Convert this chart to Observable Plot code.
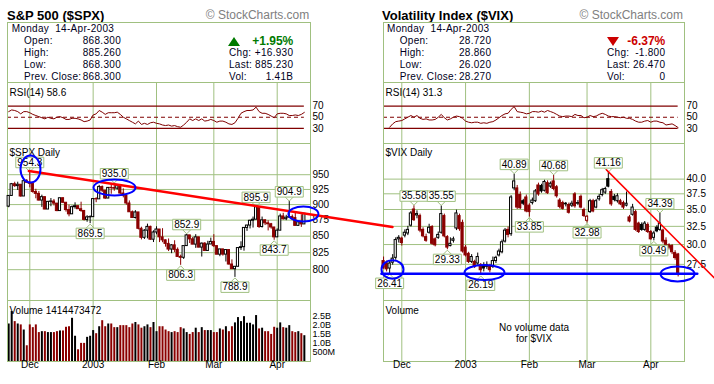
<!DOCTYPE html>
<html>
<head>
<meta charset="utf-8">
<script src="https://cdn.jsdelivr.net/npm/d3@7"></script>
<script src="https://cdn.jsdelivr.net/npm/@observablehq/plot@0.6"></script>
<style>
  html, body { margin: 0; padding: 0; background: #fff; }
  #chart { position: relative; width: 714px; height: 384px; overflow: hidden; background: #fff;
           font-family: "Liberation Sans", Arial, Helvetica, sans-serif; color: #000; }
  #chart .t { position: absolute; white-space: pre; line-height: 1; }
  #chart .box { position: absolute; border: 1px solid #a0c080; box-sizing: border-box; background: #fff; }
  #chart .tri { position: absolute; width: 0; height: 0; }
</style>
</head>
<body>
<div id="chart"></div>
<script>
// ---------------- DATA ----------------
const tradingDays = [
  "2002-11-20","2002-11-21","2002-11-22","2002-11-25","2002-11-26","2002-11-27","2002-11-29",
  "2002-12-02","2002-12-03","2002-12-04","2002-12-05","2002-12-06","2002-12-09","2002-12-10","2002-12-11","2002-12-12","2002-12-13",
  "2002-12-16","2002-12-17","2002-12-18","2002-12-19","2002-12-20","2002-12-23","2002-12-24","2002-12-26","2002-12-27","2002-12-30","2002-12-31",
  "2003-01-02","2003-01-03","2003-01-06","2003-01-07","2003-01-08","2003-01-09","2003-01-10","2003-01-13","2003-01-14","2003-01-15","2003-01-16",
  "2003-01-17","2003-01-21","2003-01-22","2003-01-23","2003-01-24","2003-01-27","2003-01-28","2003-01-29","2003-01-30","2003-01-31",
  "2003-02-03","2003-02-04","2003-02-05","2003-02-06","2003-02-07","2003-02-10","2003-02-11","2003-02-12","2003-02-13","2003-02-14",
  "2003-02-18","2003-02-19","2003-02-20","2003-02-21","2003-02-24","2003-02-25","2003-02-26","2003-02-27","2003-02-28",
  "2003-03-03","2003-03-04","2003-03-05","2003-03-06","2003-03-07","2003-03-10","2003-03-11","2003-03-12","2003-03-13","2003-03-14",
  "2003-03-17","2003-03-18","2003-03-19","2003-03-20","2003-03-21","2003-03-24","2003-03-25","2003-03-26","2003-03-27","2003-03-28","2003-03-31",
  "2003-04-01","2003-04-02","2003-04-03","2003-04-04","2003-04-07","2003-04-08","2003-04-09","2003-04-10","2003-04-11","2003-04-14"
];
const monthLabels = ["Dec", "2003", "Feb", "Mar", "Apr"];

// S&P 500
const spxPrevClose = 896.7;
const spxOpen = [896.7,914.2,933.8,930.6,932.9,913.3,938.9,
  936.3,934.5,920.8,917.6,906.6,912.2,892.0,904.5,905.0,901.6,889.5,910.4,903.0,891.1,884.3,895.8,897.4,892.5,889.7,875.4,879.4,
  879.8,909.0,908.6,929.0,922.9,909.9,927.6,927.3,926.3,931.7,918.2,914.6,901.8,887.6,878.4,887.3,861.4,847.5,858.5,864.4,844.6,
  855.7,860.3,848.2,843.6,838.2,829.7,836.0,829.2,818.7,817.4,834.9,851.2,845.1,837.1,848.2,832.6,838.6,827.6,837.3,
  841.2,834.8,822.0,829.9,822.1,828.9,807.5,800.7,804.2,831.9,833.3,862.8,866.5,874.0,875.7,895.8,864.2,874.7,870.0,868.5,863.5,
  848.2,858.5,880.9,876.5,878.9,879.9,878.3,866.0,871.6,868.3];
const spxHigh = [915.0,935.1,937.2,937.2,933.0,940.4,941.8,
  954.3,934.5,925.3,921.5,915.5,912.2,904.9,909.9,908.4,901.6,910.4,911.2,903.0,899.2,897.8,902.9,897.4,903.9,890.5,882.1,881.9,
  909.0,911.3,931.8,930.8,922.9,928.3,932.9,935.0,933.3,932.6,926.0,914.6,906.0,889.7,890.2,887.3,863.9,860.0,868.7,865.5,858.3,
  864.6,860.3,861.6,844.2,845.7,837.2,843.0,832.1,821.3,834.9,852.9,851.2,848.0,852.3,848.2,839.6,840.1,842.2,847.0,
  852.3,835.4,829.9,829.9,829.0,828.9,814.3,804.2,832.0,841.4,862.8,866.9,875.0,879.9,895.9,895.8,879.9,875.8,874.1,869.9,863.5,
  861.3,884.6,885.9,882.7,904.9,883.1,887.4,872.0,883.6,885.26];
const spxLow = [894.9,914.2,928.4,923.3,912.1,913.3,935.6,
  927.7,918.7,909.5,905.9,895.5,891.6,892.0,896.5,897.8,888.5,889.5,901.7,887.8,880.3,884.3,892.5,892.3,887.5,873.6,871.7,869.5,
  879.8,903.1,908.6,919.9,908.3,909.9,917.0,922.0,924.1,916.7,911.0,899.0,887.6,877.6,876.8,859.7,844.3,845.0,845.9,843.7,840.3,
  852.2,840.2,840.0,833.3,826.7,823.5,825.1,818.5,806.3,815.0,834.9,838.8,836.9,831.5,832.2,818.5,826.7,827.6,837.3,
  832.7,821.9,819.0,819.8,811.2,806.6,800.3,788.9,804.2,828.3,827.2,857.4,861.2,862.6,875.7,862.0,862.6,866.5,858.1,860.8,843.7,
  847.9,858.5,875.0,874.2,878.9,874.7,865.7,866.0,863.6,868.3];
const spxClose = [914.2,933.8,930.6,932.9,913.3,938.9,936.3,
  934.5,920.8,917.6,906.6,912.2,892.0,904.5,905.0,901.6,889.5,910.4,903.0,891.1,884.3,895.8,897.4,892.5,889.7,875.4,879.4,879.8,
  909.0,908.6,929.0,922.9,909.9,927.6,927.3,926.3,931.7,918.2,914.6,901.8,887.6,878.4,887.3,861.4,847.5,858.5,864.4,844.6,855.7,
  860.3,848.2,843.6,838.2,829.7,836.0,829.2,818.7,817.4,834.9,851.2,845.1,837.1,848.2,832.6,838.6,827.6,837.3,841.2,
  834.8,822.0,829.9,822.1,828.9,807.5,800.7,804.2,831.9,833.3,862.8,866.5,874.0,875.7,895.8,864.2,874.7,870.0,868.5,863.5,848.2,
  858.5,880.9,876.5,878.9,879.9,878.3,866.0,871.6,868.3,885.23];
const spxVolumeB = [2.05,2.73,2.18,2.05,2.0,1.72,0.86,
  2.0,1.85,2.0,1.58,1.63,1.63,1.58,1.58,1.58,1.63,1.67,1.67,1.87,1.90,2.36,1.38,0.64,0.99,0.99,1.32,1.38,
  1.69,1.52,1.90,2.23,1.90,2.05,2.05,1.85,1.85,1.96,1.96,1.96,1.85,2.05,2.13,2.0,1.82,1.90,2.0,1.85,2.13,
  1.63,1.90,1.90,1.72,1.63,1.58,1.63,1.58,1.85,1.78,1.58,1.48,1.58,1.82,1.58,1.85,1.69,1.69,1.69,
  1.58,1.58,1.78,1.72,1.90,1.63,1.90,2.11,2.40,2.18,2.45,2.09,2.09,2.0,2.51,1.78,1.82,1.63,1.63,1.48,1.87,
  1.82,2.11,1.85,1.82,1.96,1.63,1.58,1.63,1.52,1.41];
const spxRsi = [60,63,62,60,56,60,60,
  58,55,53,51,49,47,50,48,47,50,51,49,46,46,48,48,47,45,42,43,45,
  54,56,62,59,55,58,58,58,59,55,50,47,44,41,38,43,37,39,37,40,41,
  39,38,36,35,36,34,35,33,32,36,41,47,44,47,44,47,43,44,46,
  44,41,43,43,41,38,37,40,48,57,60,62,62,63,68,60,57,57,55,52,49,
  56,57,57,56,53,53,54,53,55,58.6];

// Volatility Index
const vixOpen = [28.6,27.9,27.6,27.0,27.7,28.3,30.7,
  30.8,31.2,31.5,32.6,35.0,34.1,34.0,32.0,31.0,31.6,32.4,30.7,30.9,31.6,34.0,31.0,29.8,30.5,32.2,34.0,33.0,
  29.6,28.8,27.8,27.8,27.6,27.4,27.2,27.2,27.3,27.2,27.9,28.6,29.0,30.4,32.0,31.4,38.4,38.4,37.3,36.3,36.9,
  35.6,36.0,36.3,38.9,38.8,38.0,39.3,38.7,39.6,38.6,36.4,36.0,35.9,35.7,35.6,37.4,35.9,37.0,34.9,
  33.3,34.6,36.3,35.3,36.6,37.3,37.7,40.0,37.8,37.0,36.3,36.3,36.0,35.6,33.8,34.2,34.6,32.9,32.7,32.0,32.7,
  31.7,30.9,32.3,32.0,31.9,30.5,29.9,29.8,28.9,28.72];
const vixHigh = [28.9,28.4,27.9,27.9,28.7,30.9,31.2,
  31.0,32.0,32.5,34.7,35.58,34.8,34.3,32.3,31.4,32.8,32.6,30.9,31.7,35.55,34.3,31.2,30.9,31.0,34.9,34.3,33.4,
  29.9,29.0,28.7,28.0,28.9,27.6,27.7,27.8,27.5,28.4,28.5,29.4,30.6,32.2,32.4,37.2,40.89,38.9,37.8,36.6,37.3,
  35.9,36.8,38.2,39.3,39.1,39.8,39.7,39.5,40.68,38.9,36.7,36.3,36.1,36.0,36.3,37.7,36.4,37.3,35.2,
  34.1,36.6,36.6,36.6,37.4,38.4,38.6,41.16,38.2,37.4,37.5,36.6,36.3,37.8,34.1,35.8,34.9,33.1,33.0,33.2,33.0,
  31.9,31.8,32.6,34.39,32.1,30.9,30.1,30.0,29.2,28.86];
const vixLow = [27.4,26.9,26.6,26.41,27.4,28.0,30.2,
  29.8,30.9,31.2,32.4,33.2,33.6,31.6,30.9,30.3,31.4,29.9,29.7,30.7,31.4,30.9,29.33,29.7,30.2,31.9,31.8,28.9,
  28.4,27.6,27.6,27.0,27.4,26.19,26.6,26.9,26.5,27.0,27.6,28.4,28.8,30.2,30.9,31.1,38.0,35.0,35.0,35.6,34.5,
  33.85,35.7,36.1,37.1,37.6,37.8,37.4,38.4,38.0,36.8,35.1,34.9,35.4,34.3,35.3,35.2,35.6,35.1,33.8,
  32.98,34.4,34.5,35.1,36.3,37.0,37.4,38.5,35.5,36.2,36.0,35.6,35.0,35.4,33.0,34.0,31.8,31.5,31.8,31.8,31.5,
  30.6,30.49,31.6,31.8,30.1,29.7,29.3,28.7,28.0,26.02];
const vixClose = [27.5,27.1,26.9,27.6,28.2,30.6,30.9,
  30.2,31.6,32.0,34.4,33.4,34.3,31.9,31.1,30.5,32.3,30.1,29.9,31.3,34.3,31.1,29.6,30.1,30.7,34.4,32.1,29.1,
  28.6,27.8,28.4,27.2,28.4,26.8,27.0,27.4,26.8,27.9,28.3,29.1,30.3,31.9,31.3,36.9,39.6,35.3,35.2,35.9,34.7,
  34.6,36.4,37.9,37.4,37.9,39.5,37.6,39.2,38.3,37.1,35.4,35.1,35.8,34.5,35.9,35.5,36.0,35.3,34.0,
  33.9,36.3,34.7,36.3,37.0,38.1,38.3,38.7,35.8,36.5,37.1,35.8,35.3,35.9,33.2,35.3,32.0,31.7,32.0,32.9,31.7,
  30.7,31.5,31.8,32.9,30.4,29.9,29.6,29.0,28.27,26.47];
const vixRsi = [null,null,null,32,38,42,43,
  44,47,50,53,50,53,48,46,47,45,45,46,50,55,49,45,47,50,52,51,48,
  43,41,40,41,41,39,40,39,41,42,45,49,53,56,57,64,69,60,59,58,56,
  57,60,60,59,61,59,62,60,58,55,52,51,52,52,51,55,53,53,49,
  50,53,51,52,55,57,55,52,51,51,50,49,50,48,48,46,43,41,41,43,44,
  41,43,43,41,40,36,37,38,35,31.3];

// price callouts: [trading-day index, value]
const spxHighCallouts = [[7, 954.3], [35, 935.0], [59, 852.9], [82, 895.9], [93, 904.9]];
const spxLowCallouts  = [[27, 869.5], [57, 806.3], [75, 788.9], [88, 843.7]];
const vixHighCallouts = [[11, 35.58], [20, 35.55], [44, 40.89], [57, 40.68], [75, 41.16], [92, 34.39]];
const vixLowCallouts  = [[3, 26.41], [22, 29.33], [33, 26.19], [49, 33.85], [68, 32.98], [90, 30.49]];

// hand-drawn annotations (trading-day index, value)
const spxTrend   = [[6.7, 956.3], [127.2, 864.3]];
const spxRings   = [[7.23, 959.8], [35.07, 928.3], [97.7, 884.8]];
const vixTrend   = [[74.4, 41.66], [110, 25.87]];
const vixSupport = [[0.3, 26.4], [104.3, 26.4]];
const vixRings   = [[3.94, 26.89], [34.23, 26.53], [97.8, 26.36]];

// axis ticks
const spxPriceTicks = [800, 825, 850, 875, 900, 925, 950];
const vixPriceTicks = [27.5, 30, 32.5, 35, 37.5, 40];
const rsiTicks = [30, 50, 70];
const volumeTicks = [0.5, 1, 1.5, 2, 2.5];
const volumeTickLabels = ["500M", "1.0B", "1.5B", "2.0B", "2.5B"];

// header texts
const headerDate = "Monday  14-Apr-2003";
const headerLabels = ["Open:", "High:", "Low:", "Prev. Close:"];
const spxHeaderValues = ["868.300", "885.260", "868.300", "868.300"];
const vixHeaderValues = ["28.720", "28.860", "26.020", "28.270"];
const rightLabels = ["Chg:", "Last:", "Vol:"];
const spxRightValues = ["+16.930", "885.230", "1.41B"];
const vixRightValues = ["-1.800", "26.470", "0"];
const spxPct = "+1.95%", vixPct = "-6.37%";
const spxRsiLabel = "RSI(14) 58.6", vixRsiLabel = "RSI(14) 31.3";
const spxVolumeLabel = "Volume 1414473472";

// ---------------- STYLE / RENDER ----------------
const GRID = "#a0c080", MAROON = "#800000", DOWN = "#8b0000", UP = "#000000";
const chart = document.getElementById("chart");
const baseStyle = {fontFamily: '"Liberation Sans", Arial, sans-serif', fontSize: "10px", color: "#000",
                   background: "transparent", overflow: "visible"};

const monthStarts = tradingDays.map((d, i) => i)
  .filter(i => i > 0 && tradingDays[i].slice(5, 7) !== tradingDays[i - 1].slice(5, 7));

function put(text, x, base, o = {}) {
  const el = document.createElement("div");
  el.className = "t";
  const size = o.size || 10;
  el.textContent = text;
  el.style.fontSize = size + "px";
  el.style.left = x + "px";
  el.style.top = (base - 0.8465 * size) + "px";
  if (o.bold) el.style.fontWeight = "bold";
  el.style.color = o.color || "#000022";
  el.style.letterSpacing = (o.ls != null ? o.ls : 0) + "px";
  if (o.anchor === "end") el.style.transform = "translateX(-100%)";
  if (o.anchor === "middle") el.style.transform = "translateX(-50%)";
  chart.appendChild(el);
}

function addPlot(opts, left, top) {
  const svg = Plot.plot(opts);
  svg.style.position = "absolute";
  svg.style.left = left + "px";
  svg.style.top = top + "px";
  svg.style.overflow = "visible";
  svg.style.background = "transparent";
  svg.style.maxWidth = "none";
  chart.appendChild(svg);
  return svg;
}

const sym = (fn) => ({draw: fn});
function ellipse(rx, ry) {
  const k = 0.5523;
  return sym(c => {
    c.moveTo(rx, 0);
    c.bezierCurveTo(rx, k * ry, k * rx, ry, 0, ry);
    c.bezierCurveTo(-k * rx, ry, -rx, k * ry, -rx, 0);
    c.bezierCurveTo(-rx, -k * ry, -k * rx, -ry, 0, -ry);
    c.bezierCurveTo(k * rx, -ry, rx, -k * ry, rx, 0);
    c.closePath();
  });
}
const BW = 28, BH = 10.5, VH = 4.5;
const boxAbove = sym(c => c.rect(-BW / 2, -VH - BH, BW, BH));
const boxBelow = sym(c => c.rect(-BW / 2, VH, BW, BH));
const vAbove = sym(c => { c.moveTo(-4, -VH); c.lineTo(0, -0.5); c.lineTo(4, -VH); });
const vBelow = sym(c => { c.moveTo(-4, VH); c.lineTo(0, 0.5); c.lineTo(4, VH); });

function callouts(list, above, digits) {
  const o = {x: d => d[0], y: d => d[1]};
  return [
    Plot.dot(list, {...o, symbol: above ? vAbove : vBelow, fill: "none", stroke: GRID, strokeWidth: 1}),
    Plot.dot(list, {...o, symbol: above ? boxAbove : boxBelow, fill: "white", stroke: GRID, strokeWidth: 1}),
    Plot.text(list, {...o, text: d => d[1].toFixed(digits), dy: above ? -(VH + BH / 2) : (VH + BH / 2), fill: "#000", fontSize: 10})
  ];
}

function candleRows(open, high, low, close, prev0, from) {
  return close.map((c, i) => {
    const pc = i ? close[i - 1] : prev0;
    const col = c < pc ? DOWN : UP;
    return {i, o: open[i], h: high[i], l: low[i], c, col, body: c < open[i] ? col : "white"};
  }).filter(d => d.i >= from);
}

function drawPanel(p) {
  const {left: L, w, mr, xDomain} = p;
  const lastIdx = tradingDays.length - 1;
  // header
  put(p.title, p.titleX, 20, {size: 13, bold: true, color: "#000"});
  put("\u00a9 StockCharts.com", p.copyR, 19.5, {size: 12, color: "#808080", anchor: "end"});
  const box = document.createElement("div");
  box.className = "box";
  Object.assign(box.style, {left: L + "px", top: "22px", width: (w + 1) + "px", height: "61px"});
  chart.appendChild(box);
  put(headerDate, p.dateX, 32.3, {ls: 0.3});
  const rows = [44.8, 56.8, 68.4, 80.3];
  headerLabels.forEach((t, k) => put(t, p.labX, rows[k], {ls: 0.3}));
  p.headerValues.forEach((t, k) => put(t, p.valR, rows[k], {ls: 0.3, anchor: "end"}));
  rightLabels.forEach((t, k) => put(t, p.rLabX, rows[k + 1], {ls: 0.3}));
  p.rightValues.forEach((t, k) => put(t, p.valR2, rows[k + 1], {ls: 0.3, anchor: "end"}));
  put(p.pct, p.valR2, 45, {size: 12, bold: true, color: p.pctColor, anchor: "end"});
  const tri = document.createElement("div");
  tri.className = "tri";
  Object.assign(tri.style, {left: p.triX + "px", top: "37px", borderLeft: "6.5px solid transparent",
    borderRight: "6.5px solid transparent"});
  if (p.up) tri.style.borderBottom = "9px solid " + p.pctColor; else tri.style.borderTop = "9px solid " + p.pctColor;
  chart.appendChild(tri);

  const common = {
    width: w + mr, marginLeft: 0, marginRight: mr, marginTop: 0,
    x: {domain: xDomain, axis: null},
    color: {type: "identity"},
    style: baseStyle
  };
  const x0 = () => xDomain[0], xl = () => lastIdx;

  // RSI panel
  const rsiRows = p.rsi.map((r, i) => ({i, r})).filter(d => d.r != null && d.i >= xDomain[0]);
  addPlot({...common, height: 61, marginBottom: 0,
    y: {domain: [2.83, 112.2], axis: null},
    marks: [
      Plot.ruleX(monthStarts, {stroke: GRID}),
      Plot.ruleY([30, 70], {x1: x0, x2: xl, stroke: MAROON, strokeWidth: 1.3}),
      Plot.ruleY([50], {x1: x0, x2: xl, stroke: MAROON, strokeWidth: 1.1, strokeDasharray: "4,3"}),
      Plot.line(rsiRows, {x: "i", y: "r", stroke: MAROON, strokeWidth: 1}),
      Plot.frame({stroke: GRID}),
      Plot.text(rsiTicks, {y: d => d, text: d => String(d), frameAnchor: "right", textAnchor: "start", dx: 2}),
      Plot.text([p.rsiLabel], {text: d => d, frameAnchor: "top-left", textAnchor: "start", dx: 2, dy: 6})
    ]}, L, 82);

  // price panel
  const cr = candleRows(p.open, p.high, p.low, p.close, p.prev0, Math.ceil(xDomain[0]));
  addPlot({...common, height: 157, marginBottom: 0,
    y: {type: "log", domain: p.yDomain, axis: null},
    marks: [
      Plot.ruleY(p.ticks, {stroke: GRID}),
      Plot.ruleX(monthStarts, {stroke: GRID}),
      Plot.frame({stroke: GRID}),
      Plot.text(p.ticks, {y: d => d, text: p.tickFmt, frameAnchor: "right", textAnchor: "start", dx: 2}),
      Plot.text([p.priceLabel], {text: d => d, frameAnchor: "top-left", textAnchor: "start", dx: 2, dy: 5}),
      Plot.ruleX(cr, {x: "i", y1: "l", y2: "h", stroke: "col", strokeWidth: 1}),
      Plot.rect(cr, {x1: d => d.i - 0.36, x2: d => d.i + 0.36, y1: "o", y2: "c", fill: "body", stroke: "col", strokeWidth: 1}),
      ...callouts(p.highCallouts, true, p.digits),
      ...callouts(p.lowCallouts, false, p.digits),
      ...p.extra,
      ...p.rings.map((r, k) => Plot.dot([r], {x: d => d[0], y: d => d[1], symbol: ellipse(...p.ringSizes[k]),
        fill: "none", stroke: "#0000ff", strokeWidth: 2}))
    ]}, L, 143);

  // volume panel
  const volMarks = [Plot.ruleX(monthStarts, {stroke: GRID})];
  if (p.volume) {
    const vr = p.volume.map((v, i) => ({i, v, col: p.close[i] < (i ? p.close[i - 1] : p.prev0) ? DOWN : UP}))
      .filter(d => d.i >= xDomain[0]);
    volMarks.push(
      Plot.ruleX(vr, {x: "i", y1: () => 0, y2: "v", stroke: "col", strokeWidth: 2}),
      Plot.text(volumeTicks, {y: d => d, text: (d, k) => volumeTickLabels[k], frameAnchor: "right", textAnchor: "start",
        dx: 2, fontSize: 9})
    );
  } else {
    volMarks.push(
      Plot.text(["No volume data"], {text: d => d, frameAnchor: "middle", dy: -3.5}),
      Plot.text(["for $VIX"], {text: d => d, frameAnchor: "middle", dy: 7.5})
    );
  }
  volMarks.push(
    Plot.frame({stroke: GRID}),
    Plot.text(monthStarts, {x: d => d, text: (d, k) => monthLabels[k], frameAnchor: "bottom", dy: 6.5}),
    Plot.text([p.volumeLabel], {text: d => d, frameAnchor: "top-left", textAnchor: "start", dx: 2, dy: 6})
  );
  addPlot({...common, height: 61 + 16, marginBottom: 16,
    y: {domain: [0, 3.333], axis: null}, marks: volMarks}, L, 300);
}

// VIX first so that the S&P trend line overlaps it
drawPanel({
  left: 383, w: 301, mr: 30, xDomain: [0.975, 100.09], yDomain: [23.46, 46.78],
  title: "Volatility Index ($VIX)", titleX: 382, copyR: 683,
  dateX: 387, labX: 399.7, valR: 491.3, rLabX: 607, valR2: 665.3, triX: 607,
  headerValues: vixHeaderValues, rightValues: vixRightValues, pct: vixPct, pctColor: "#cc0000", up: false,
  rsi: vixRsi, rsiLabel: vixRsiLabel,
  open: vixOpen, high: vixHigh, low: vixLow, close: vixClose, prev0: vixClose[0],
  ticks: vixPriceTicks, tickFmt: d => d.toFixed(1), priceLabel: "$VIX Daily", digits: 2,
  highCallouts: vixHighCallouts, lowCallouts: vixLowCallouts,
  extra: [
    Plot.line(vixSupport, {x: d => d[0], y: d => d[1], stroke: "#0000ff", strokeWidth: 2.5}),
    Plot.line(vixTrend, {x: d => d[0], y: d => d[1], stroke: "#ff0000", strokeWidth: 1.5})
  ],
  rings: vixRings, ringSizes: [[11, 9.3], [20, 7.5], [17, 7.5]],
  volume: null, volumeLabel: "Volume"
});

drawPanel({
  left: 7, w: 303, mr: 37, xDomain: [-0.39, 100.04], yDomain: [756.6, 1005.2],
  title: "S&P 500 ($SPX)", titleX: 7, copyR: 309.3,
  dateX: 11.7, labX: 24, valR: 121, rLabX: 229, valR2: 293.3, triX: 228,
  headerValues: spxHeaderValues, rightValues: spxRightValues, pct: spxPct, pctColor: "#007a00", up: true,
  rsi: spxRsi, rsiLabel: spxRsiLabel,
  open: spxOpen, high: spxHigh, low: spxLow, close: spxClose, prev0: spxPrevClose,
  ticks: spxPriceTicks, tickFmt: d => String(d), priceLabel: "$SPX Daily", digits: 1,
  highCallouts: spxHighCallouts, lowCallouts: spxLowCallouts,
  extra: [
    Plot.line(spxTrend, {x: d => d[0], y: d => d[1], stroke: "#ff0000", strokeWidth: 2.5})
  ],
  rings: spxRings, ringSizes: [[10, 13.5], [21, 8], [15, 7.5]],
  volume: spxVolumeB, volumeLabel: spxVolumeLabel
});
</script>
</body>
</html>
